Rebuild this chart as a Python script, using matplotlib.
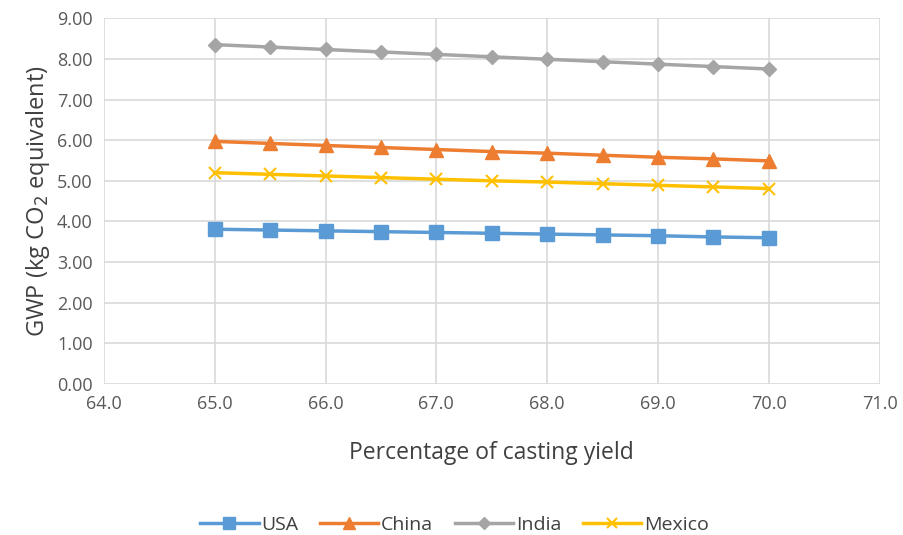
import matplotlib.pyplot as plt
import numpy as np

plt.rcParams['font.family'] = ['Open Sans', 'DejaVu Sans']

yield_pct = [65.0, 65.5, 66.0, 66.5, 67.0, 67.5, 68.0, 68.5, 69.0, 69.5, 70.0]
usa = [3.81, 3.79, 3.77, 3.75, 3.73, 3.71, 3.69, 3.67, 3.65, 3.62, 3.60]
china = [5.97, 5.92, 5.87, 5.82, 5.77, 5.72, 5.68, 5.63, 5.58, 5.54, 5.49]
india = [8.35, 8.29, 8.23, 8.17, 8.11, 8.05, 7.99, 7.93, 7.87, 7.81, 7.75]
mexico = [5.20, 5.16, 5.12, 5.08, 5.04, 5.00, 4.97, 4.93, 4.89, 4.85, 4.81]

fig = plt.figure(figsize=(9.04, 5.35), dpi=100)
ax = fig.add_axes([0.115, 0.282, 0.858, 0.684])

ax.plot(yield_pct, usa, color='#5B9BD5', lw=2.5, marker='s', ms=10, label='USA')
ax.plot(yield_pct, china, color='#ED7D31', lw=2.5, marker='^', ms=10, label='China')
ax.plot(yield_pct, india, color='#A5A5A5', lw=2.5, marker='D', ms=7.5, label='India')
ax.plot(yield_pct, mexico, color='#FFC000', lw=2.5, marker='x', ms=9, mew=1.5, label='Mexico')

ax.set_xlim(64, 71)
ax.set_ylim(0, 9)
ax.set_xticks(np.arange(64, 71.5, 1))
ax.set_yticks(np.arange(0, 9.5, 1))
ax.xaxis.set_major_formatter(plt.FormatStrFormatter('%.1f'))
ax.yaxis.set_major_formatter(plt.FormatStrFormatter('%.2f'))
ax.grid(True, color='#D9D9D9', lw=1.2)
ax.set_axisbelow(True)
for s in ax.spines.values():
    s.set_visible(False)
ax.tick_params(length=0, labelsize=13, colors='#595959', pad=8)

ax.set_xlabel('Percentage of casting yield', fontsize=16.5, color='#404040', labelpad=20)
ax.set_ylabel('GWP (kg CO$_2$ equivalent)', fontsize=17, color='#404040', labelpad=4)

leg = ax.legend(loc='upper center', bbox_to_anchor=(0.452, -0.313), ncol=4, frameon=False,
                fontsize=14, handlelength=3.0, columnspacing=1.1, handletextpad=0.15,
                markerscale=0.85)
for t in leg.get_texts():
    t.set_color('#404040')

fig.savefig('out.png', dpi=100)
